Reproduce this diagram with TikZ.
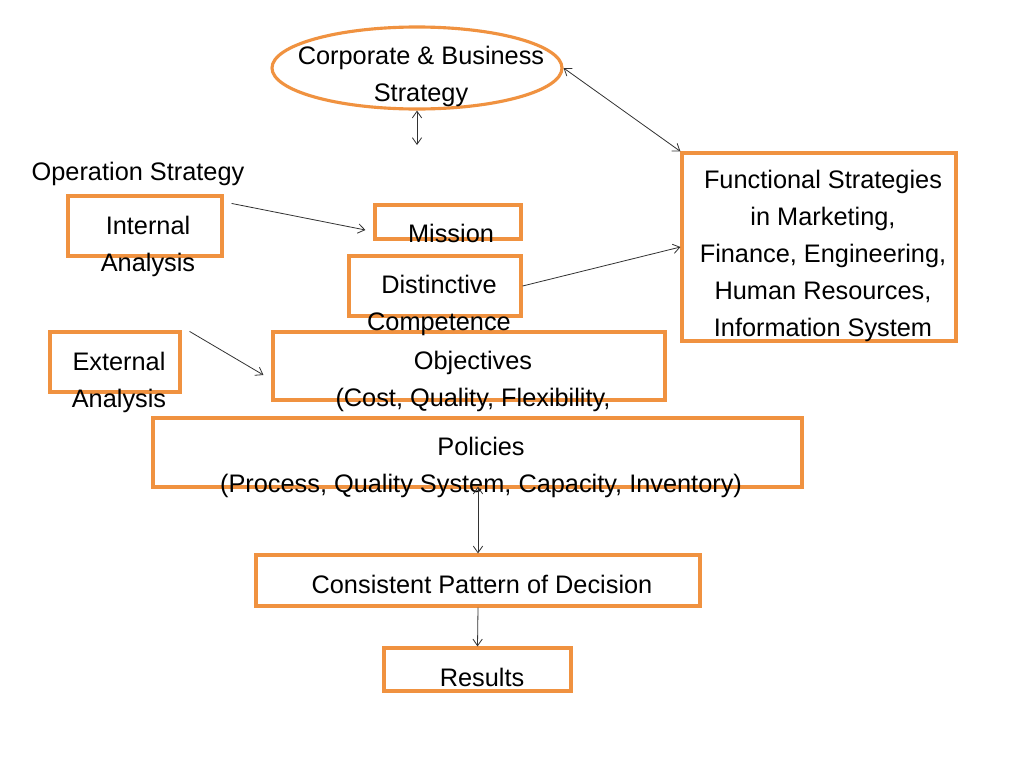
\documentclass[tikz,border=0pt]{standalone}
\usepackage{fontspec}
\setmainfont{Liberation Sans}
\usetikzlibrary{arrows.meta,shapes.geometric,calc}
\definecolor{orng}{RGB}{240,146,64}
\definecolor{arr}{RGB}{50,50,50}
\begin{document}
\begin{tikzpicture}[x=0.75pt,y=-0.75pt,
  obox/.style={draw=orng,line width=2.35pt,rectangle,inner sep=0pt},
  lbl/.style={font=\fontsize{19}{27.75}\selectfont,align=center,inner sep=0pt},
  con/.style={draw=arr,line width=0.6pt,-{Straight Barb[length=5pt,width=7pt]}},
  dcon/.style={draw=arr,line width=0.6pt,{Straight Barb[length=5pt,width=7pt]}-{Straight Barb[length=5pt,width=7pt]}}]
\useasboundingbox (0,0) rectangle (1024,768);
\fill[white] (0,0) rectangle (1024,768);
% boxes
\node[obox,ellipse,minimum width=217.5pt,minimum height=61.5pt] (cbs) at (417,68) {};
\node[obox,minimum width=115.5pt,minimum height=45pt] (int) at (145,226) {};
\node[obox,minimum width=109.5pt,minimum height=25.5pt] (mis) at (448,222) {};
\node[obox,minimum width=129pt,minimum height=45pt] (dis) at (435,286) {};
\node[obox,minimum width=205.5pt,minimum height=141pt] (fun) at (819,247) {};
\node[obox,minimum width=97.5pt,minimum height=45pt] (ext) at (115,362) {};
\node[obox,minimum width=294pt,minimum height=51pt] (obj) at (469,366) {};
\node[obox,minimum width=486.75pt,minimum height=51.75pt] (pol) at (477.5,452.5) {};
\node[obox,minimum width=333pt,minimum height=38.25pt] (cpd) at (478,580.5) {};
\node[obox,minimum width=140.25pt,minimum height=32.25pt] (res) at (477.5,669.5) {};
% labels
\node[lbl] (tcbs) at (421,76.5) {Corporate \& Business\\Strategy};
\node[lbl] (tops) at (138,174) {Operation Strategy};
\node[lbl] (tint) at (148,246) {Internal\\Analysis};
\node[lbl] (tmis) at (451,233) {Mission};
\node[lbl] (tdis) at (439,305.5) {Distinctive\\Competence};
\node[lbl] (tfun) at (823,256) {Functional Strategies\\in Marketing,\\Finance, Engineering,\\Human Resources,\\Information System};
\node[lbl] (text) at (119,382) {External\\Analysis};
\node[lbl] (tobj) at (473,381) {Objectives\\(Cost, Quality, Flexibility,};
\node[lbl] (tpol) at (481,467.5) {Policies\\(Process, Quality System, Capacity, Inventory)};
\node[lbl] (tcpd) at (482,584) {Consistent Pattern of Decision};
\node[lbl] (tres) at (482,677) {Results};
% connectors
\coordinate (cbsend) at (417,145);
\draw[dcon] (cbs.south) -- (cbsend);
\draw[dcon] (cbs.east) -- (fun.north west);
\draw[con] ($(int.north east)+(8,9)$) -- ($(mis.west)+(-8,8)$);
\draw[con] (dis.east) -- (fun.west);
\draw[con] ($(ext.north east)+(8,1)$) -- ($(obj.west)+(-8,9)$);
\draw[dcon] ($(pol.south)+(0.5,-2)$) -- (cpd.north);
\draw[con] (cpd.south) -- (res.north);
\end{tikzpicture}
\end{document}
